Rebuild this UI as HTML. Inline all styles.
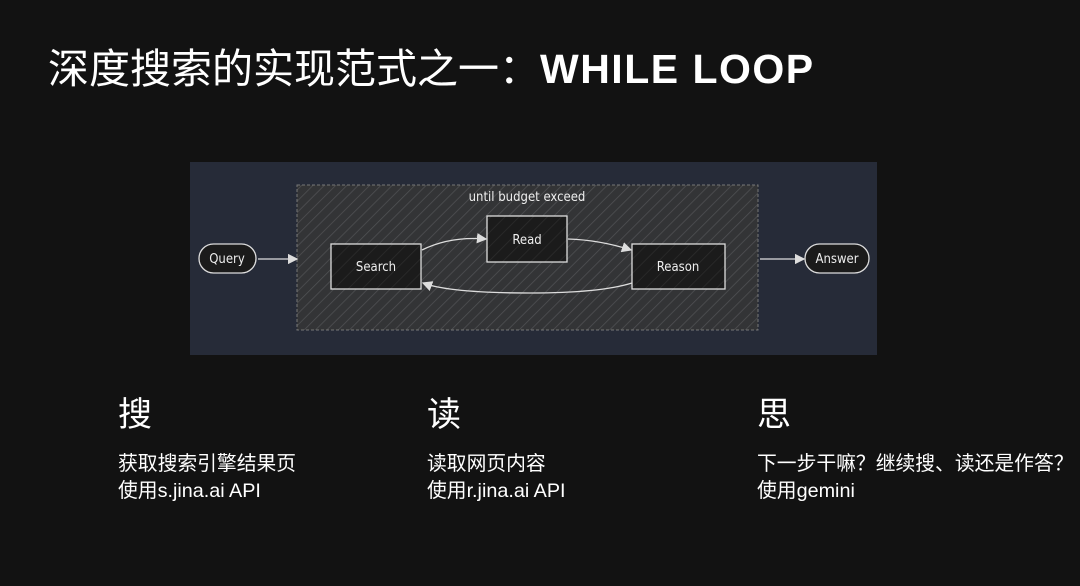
<!DOCTYPE html>
<html><head><meta charset="utf-8"><style>
html,body{margin:0;padding:0;background:#121212;width:1080px;height:586px;overflow:hidden;font-family:"Liberation Sans","Noto Sans CJK SC",sans-serif;color:#fff}
.t{position:absolute;left:48px;top:44px;font-size:41px;line-height:50px;white-space:nowrap}
.t b{font-weight:900;letter-spacing:1.5px}
.h{position:absolute;font-size:34px;line-height:40px;top:395px}
.p{position:absolute;font-size:19.8px;line-height:27px;top:451px;white-space:nowrap}
</style></head><body>
<div class="t">深度搜索的实现范式之一：<b>WHILE LOOP</b></div>
<svg style="position:absolute;left:0;top:0" width="1080" height="586">
<defs>
<pattern id="hp" width="8" height="8" patternUnits="userSpaceOnUse" patternTransform="rotate(45)">
<rect width="8" height="8" fill="#333436"/><line x1="0" y1="0" x2="0" y2="8" stroke="#505154" stroke-width="1.5"/></pattern>
<pattern id="hn" width="10" height="10" patternUnits="userSpaceOnUse" patternTransform="rotate(45)">
<rect width="10" height="10" fill="#1b1b1b"/><line x1="0" y1="0" x2="0" y2="10" stroke="#2c2c2c" stroke-width="1.5"/></pattern>
<marker id="a" markerWidth="8" markerHeight="8" refX="7" refY="4" orient="auto"><path d="M0,0 L8,4 L0,8 z" fill="#ddd"/></marker>
</defs>
<rect x="190" y="162" width="687" height="193" fill="#262b38"/>
<rect x="297" y="185" width="461" height="145" fill="url(#hp)" stroke="#777" stroke-dasharray="3,2"/>
<text x="527" y="201" fill="#eee" font-size="13" text-anchor="middle" font-family="DejaVu Sans Condensed,Liberation Sans,sans-serif">until budget exceed</text>
<g stroke="#ddd" stroke-width="1.3" fill="url(#hn)">
<rect x="331" y="244" width="90" height="45"/>
<rect x="487" y="216" width="80" height="46"/>
<rect x="632" y="244" width="93" height="45"/>
<rect x="199" y="244" width="57" height="29" rx="14.5" fill="#1b1b1b"/>
<rect x="805" y="244" width="64" height="29" rx="14.5" fill="#1b1b1b"/>
</g>
<g stroke="#ddd" stroke-width="1.3" fill="none" marker-end="url(#a)">
<line x1="258" y1="259" x2="297" y2="259"/>
<line x1="760" y1="259" x2="804" y2="259"/>
<path d="M422,250 Q450,236 486,239"/>
<path d="M568,239 Q600,240 631,250"/>
<path d="M632,283 Q600,293 530,293 Q450,293 423,283"/>
</g>
<g fill="#eee" font-size="13" text-anchor="middle" font-family="DejaVu Sans Condensed,Liberation Sans,sans-serif">
<text x="376" y="271">Search</text><text x="527" y="244">Read</text><text x="678" y="271">Reason</text>
<text x="227" y="263">Query</text><text x="837" y="263">Answer</text>
</g>
</svg>
<div class="h" style="left:118px">搜</div>
<div class="h" style="left:427px">读</div>
<div class="h" style="left:757px">思</div>
<div class="p" style="left:118px">获取搜索引擎结果页<br>使用s.jina.ai API</div>
<div class="p" style="left:427px">读取网页内容<br>使用r.jina.ai API</div>
<div class="p" style="left:757px">下一步干嘛？继续搜、读还是作答？<br>使用gemini</div>
</body></html>
